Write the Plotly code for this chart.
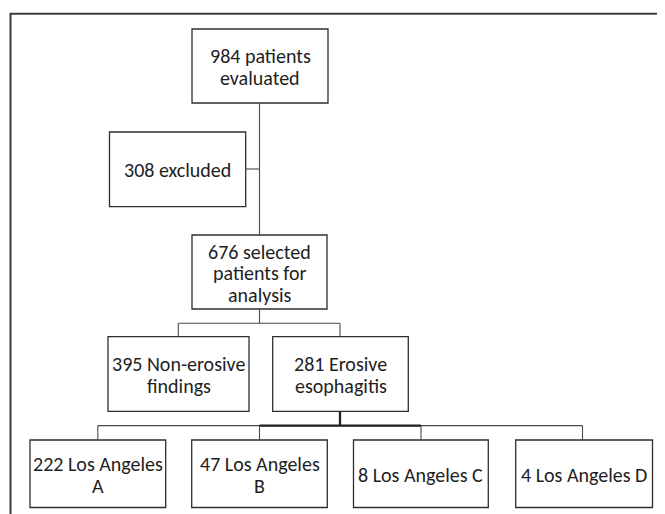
import plotly.graph_objects as go

# ---- data (flowchart content) ----
node_ids = ["eval", "excl", "sel", "nonero", "ero", "laA", "laB", "laC", "laD"]
counts = [984, 308, 676, 395, 281, 222, 47, 8, 4]
descriptions = [
    "patients\nevaluated",
    "excluded",
    "selected\npatients for\nanalysis",
    "Non-erosive\nfindings",
    "Erosive\nesophagitis",
    "Los Angeles\nA",
    "Los Angeles\nB",
    "Los Angeles C",
    "Los Angeles D",
]

# ---- layout of the boxes (page pixels, y down) ----
box_geom = {
    "eval":   (192.0, 328.0, 29.0, 103.0),
    "excl":   (109.5, 245.7, 132.0, 206.7),
    "sel":    (192.0, 327.0, 235.0, 309.0),
    "nonero": (108.0, 249.0, 336.7, 411.3),
    "ero":    (272.7, 408.3, 336.7, 411.3),
    "laA":    (30.0, 165.7, 440.0, 507.5),
    "laB":    (191.7, 327.3, 440.0, 507.5),
    "laC":    (353.5, 488.3, 440.0, 507.5),
    "laD":    (515.7, 652.5, 440.0, 507.5),
}

W, H = 665, 514
OFF = 8  # default page body margin
BOX_COLOR = "#2e2e2e"
LINE_COLOR = "#4a4a4a"
TEXT_COLOR = "#1e1e1e"
FONT = "Carlito, Open Sans"
FSIZE = 20
LINE_H = 21.5

shapes = []
annotations = []

# outer frame (cropped at right and bottom)
shapes.append(dict(type="path", path=f"M 10.5 {H+5} L 10.5 13.7 L {W+5} 13.7",
                   line=dict(color="#3c3c3c", width=2), xref="x", yref="y"))

for nid, cnt, desc in zip(node_ids, counts, descriptions):
    x0, x1, y0, y1 = box_geom[nid]
    shapes.append(dict(type="rect", x0=x0, x1=x1, y0=y0, y1=y1, xref="x", yref="y",
                       line=dict(color=BOX_COLOR, width=1.3), fillcolor="rgba(0,0,0,0)"))
    lines = f"{cnt} {desc}".split("\n")
    cx = (x0 + x1) / 2
    cy = (y0 + y1) / 2
    n = len(lines)
    for i, t in enumerate(lines):
        ly = cy + (i - (n - 1) / 2) * LINE_H + 1
        annotations.append(dict(x=cx, y=ly, xref="x", yref="y", text=t, showarrow=False,
                                xanchor="center", yanchor="middle",
                                font=dict(family=FONT, size=FSIZE, color=TEXT_COLOR)))

def seg(xa, ya, xb, yb, w=1.1, c=LINE_COLOR):
    shapes.append(dict(type="line", x0=xa, y0=ya, x1=xb, y1=yb, xref="x", yref="y",
                       line=dict(color=c, width=w)))

# connectors
seg(259.5, 103.0, 259.5, 235.0)
seg(245.7, 169.0, 259.5, 169.0)
seg(259.5, 309.0, 259.5, 323.3)
seg(178.3, 323.3, 340.0, 323.3)
seg(178.3, 323.3, 178.3, 336.7)
seg(340.0, 323.3, 340.0, 336.7)
seg(97.8, 425.6, 582.5, 425.6)
seg(259.5, 425.6, 421.0, 425.6, w=2.3, c="#222222")
seg(340.0, 411.3, 340.0, 425.6, w=2.3, c="#222222")
for xd in (97.8, 259.5, 421.0, 582.5):
    seg(xd, 425.6, xd, 440.0)

fig = go.Figure()
fig.update_layout(
    width=W - OFF, height=H - OFF,
    margin=dict(l=0, r=0, t=0, b=0),
    paper_bgcolor="white", plot_bgcolor="white",
    xaxis=dict(range=[OFF, W], visible=False, fixedrange=True),
    yaxis=dict(range=[H, OFF], visible=False, fixedrange=True),
    shapes=shapes, annotations=annotations, showlegend=False,
)
fig.write_html("out.html")
